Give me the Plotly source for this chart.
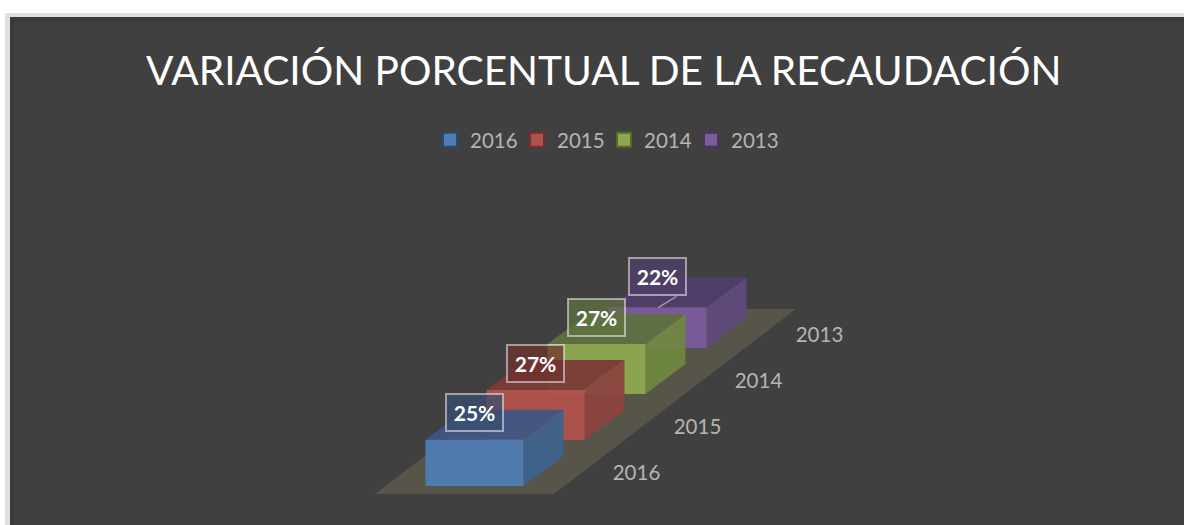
import plotly.graph_objects as go

categories = ["2016", "2015", "2014", "2013"]
values = [25, 27, 27, 22]
labels = ["25%", "27%", "27%", "22%"]
title_text = "VARIACIÓN PORCENTUAL DE LA RECAUDACIÓN"

front_colors = ["#4f7cb2", "#b0524c", "#8ca84f", "#7a5b9b"]
side_colors = ["#3d638c", "#8c4340", "#6f8741", "#5f4a7b"]
top_colors = ["#3f5683", "#7a3a37", "#5f7040", "#4f3d68"]
edge_colors = ["#2c4a6e", "#742f2c", "#55692e", "#453360"]
label_fills = ["rgba(55,78,112,0.72)", "rgba(112,48,46,0.72)", "rgba(95,115,65,0.72)", "rgba(82,62,108,0.72)"]

# Oblique projection of the chart's (category, value) space onto the page
ORIGIN = (425.5, 486.0)
STEP = (61.0, -46.0)
WIDTH = 98.0
DEPTH = (40.0, -30.0)
PX_PER_UNIT = 1.85


def project(i, v=0.0, along=0.0, deep=0.0):
    return (
        ORIGIN[0] + i * STEP[0] + along * WIDTH + deep * DEPTH[0],
        ORIGIN[1] + i * STEP[1] + deep * DEPTH[1] - v * PX_PER_UNIT,
    )


def alpha(color, a):
    c = color.lstrip("#")
    return f"rgba({int(c[:2], 16)},{int(c[2:4], 16)},{int(c[4:], 16)},{a})"


def face(points, color, name):
    xs = [p[0] for p in points] + [points[0][0]]
    ys = [p[1] for p in points] + [points[0][1]]
    return go.Scatter(x=xs, y=ys, mode="lines", fill="toself", fillcolor=color,
                      line=dict(width=0), hoverinfo="skip", showlegend=False, name=name)


fig = go.Figure()

# floor: runs four category steps, wider than the bars
f0 = (ORIGIN[0] - 50.5, ORIGIN[1] + 8)
fl = [f0, (f0[0] + 179, f0[1]),
      (f0[0] + 179 + 4 * STEP[0] - 2, f0[1] + 4 * STEP[1] - 1),
      (f0[0] + 4 * STEP[0] - 2, f0[1] + 4 * STEP[1] - 1)]
fig.add_trace(face(fl, "#57544a", "floor"))

# bars, back to front
for i in reversed(range(len(values))):
    v = values[i]
    n = categories[i]
    fig.add_trace(face([project(i, 0, 1, 0), project(i, 0, 1, 1), project(i, v, 1, 1), project(i, v, 1, 0)],
                       alpha(side_colors[i], 0.94), n))
    fig.add_trace(face([project(i, v, 0, 0), project(i, v, 1, 0), project(i, v, 1, 1), project(i, v, 0, 1)],
                       alpha(top_colors[i], 0.94), n))
    fig.add_trace(face([project(i, 0, 0, 0), project(i, 0, 1, 0), project(i, v, 1, 0), project(i, v, 0, 0)],
                       alpha(front_colors[i], 0.96), n))

# leader line on the last label
cx, cy = project(3, values[3], 0.5, 0)
fig.add_trace(go.Scatter(x=[cx + 1, cx + 19], y=[cy, cy - 11], mode="lines",
                         line=dict(color="rgba(255,255,255,0.45)", width=1.5),
                         hoverinfo="skip", showlegend=False))

# category labels
tx = [project(i, 0, 1.0, 0)[0] + 113 for i in range(4)]
ty = [project(i, 0, 1.0, 0)[1] - 11 for i in range(4)]
fig.add_trace(go.Scatter(x=tx, y=ty, text=categories, mode="text",
                         textfont=dict(family="Lato", size=20.5, color="#b4b4b4"),
                         hoverinfo="skip", showlegend=False))

# legend entries
for i, n in enumerate(categories):
    fig.add_trace(go.Scatter(x=[None], y=[None], mode="markers", name=n,
                             marker=dict(symbol="square", size=14, color=front_colors[i],
                                         line=dict(color=edge_colors[i], width=2))))

annotations = []
for i, t in enumerate(labels):
    x, y = project(i, values[i], 0.5, 0)
    annotations.append(dict(x=x, y=y - (31 if i == 3 else 27), text=f"<b>{t}</b>", showarrow=False,
                            xref="x", yref="y", width=55, height=35, borderwidth=2, borderpad=0,
                            bordercolor="rgba(255,255,255,0.5)", bgcolor=label_fills[i],
                            font=dict(family="Lato", size=21, color="#ffffff")))
annotations.append(dict(x=603.5, y=69, text=title_text, showarrow=False, xref="x", yref="y",
                        font=dict(family="Lato", size=40.6, color="#ffffff")))

fig.update_layout(
    width=1184, height=525, margin=dict(l=0, r=0, t=0, b=0), autosize=False,
    paper_bgcolor="#ffffff", plot_bgcolor="rgba(0,0,0,0)", annotations=annotations,
    xaxis=dict(range=[0, 1184], visible=False, fixedrange=True),
    yaxis=dict(range=[525, 0], visible=False, fixedrange=True),
    shapes=[
        dict(type="rect", xref="x", yref="y", x0=5, x1=1190, y0=13, y1=530, fillcolor="#e0e0e0", line_width=0, layer="below"),
        dict(type="rect", xref="x", yref="y", x0=10, x1=1190, y0=17, y1=530, fillcolor="#3a3a3a", line_width=0, layer="below"),
        dict(type="rect", xref="x", yref="y", x0=14, x1=1190, y0=22, y1=530, fillcolor="#404040", line_width=0, layer="below"),
    ],
    legend=dict(orientation="h", x=430 / 1184, y=1 - 120 / 525, xanchor="left", yanchor="top",
                entrywidth=42, entrywidthmode="pixels", bgcolor="rgba(0,0,0,0)", itemwidth=30,
                font=dict(family="Lato", size=20.5, color="#b4b4b4")),
)
fig.write_html("out.html", config=dict(displayModeBar=False),
               post_script="document.body.style.margin='0';document.documentElement.style.overflow='hidden';")
